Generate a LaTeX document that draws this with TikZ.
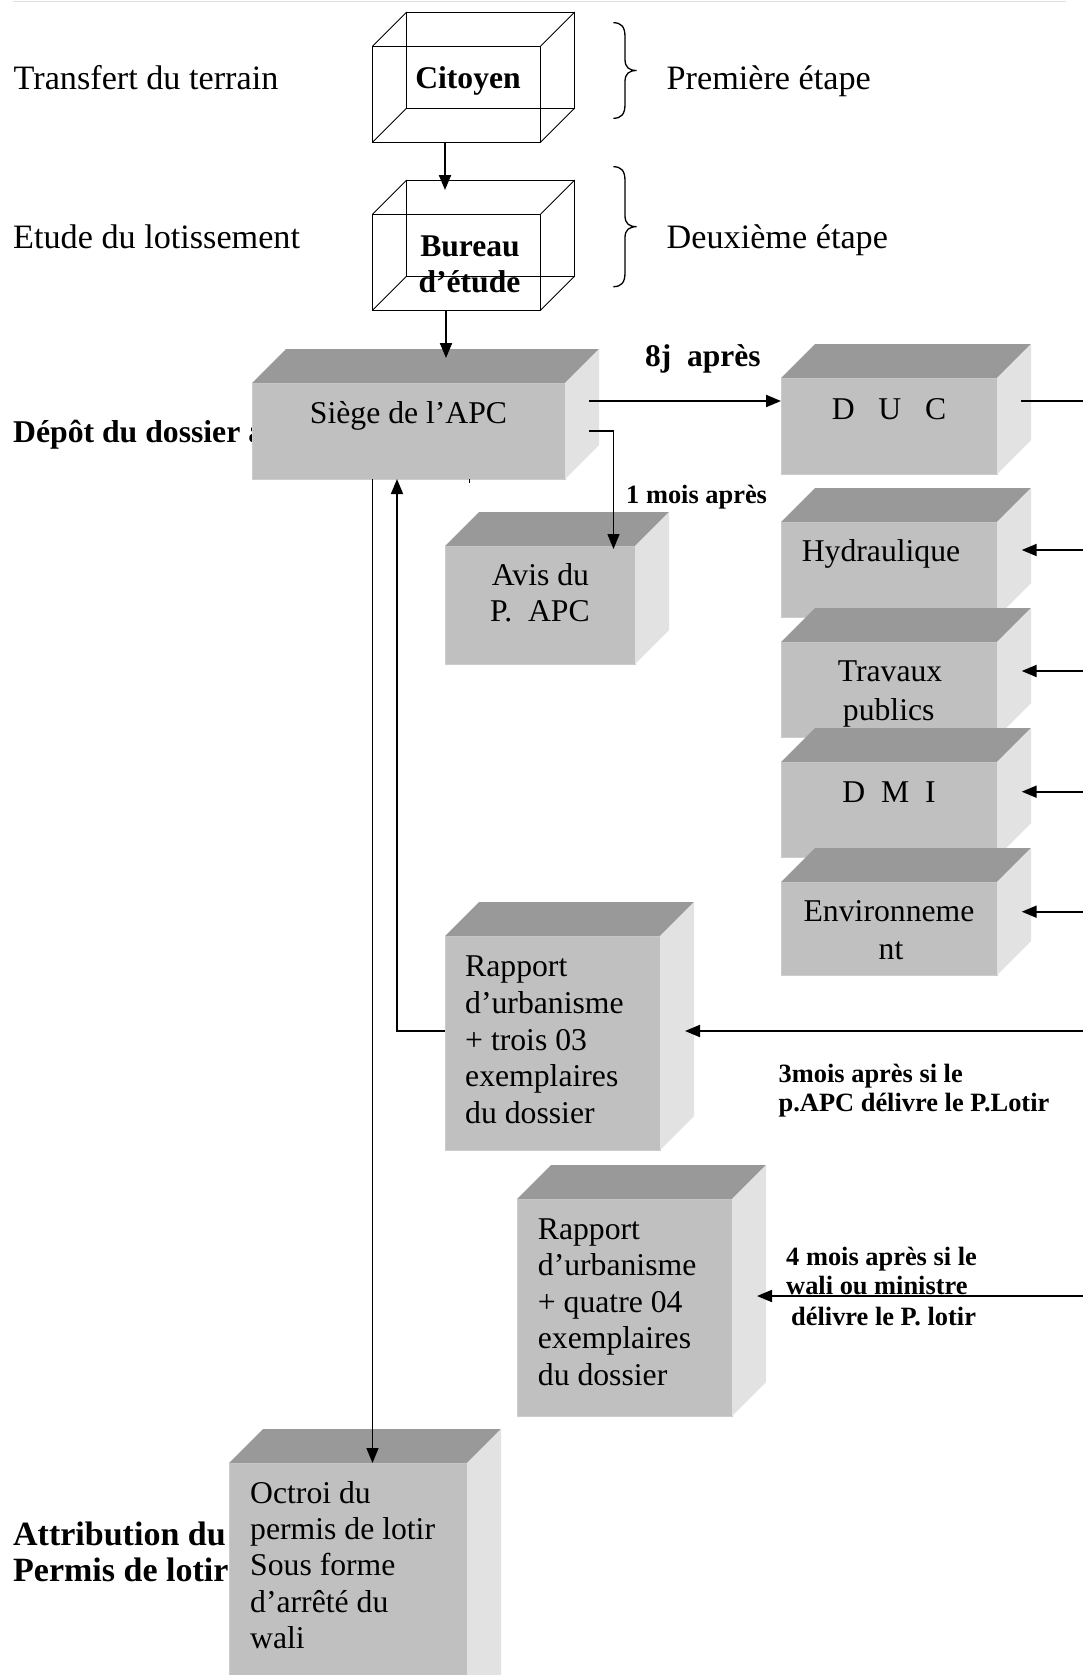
\documentclass[tikz,border=0pt]{standalone}
\usepackage{fontspec}
\setmainfont{Liberation Serif}
\usetikzlibrary{calc,arrows.meta}

\definecolor{topgray}{RGB}{153,153,153}
\definecolor{frontgray}{RGB}{192,192,192}
\definecolor{sidegray}{RGB}{226,226,226}
\definecolor{rimgray}{RGB}{204,204,204}

\newcommand\Fs[2]{\fontsize{#1}{#2}\selectfont}

% back edges of an open wire-frame cube whose front face is node #1
\newcommand\wireback[1]{%
  \draw[wireline] ($(#1.north west)+(34,-34)$) rectangle ($(#1.south east)+(34,-34)$);
  \draw[wireline] (#1.north west) -- ++(34,-34) (#1.north east) -- ++(34,-34)
                  (#1.south west) -- ++(34,-34) (#1.south east) -- ++(34,-34);}

% shaded top and right faces of a solid block whose front face is node #1
\newcommand\solidfaces[1]{%
  \fill[topgray] (#1.north west) -- ++(34,-34) -- ($(#1.north east)+(34,-34)$) -- (#1.north east) -- cycle;
  \fill[sidegray] (#1.north east) -- ++(34,-34) -- ($(#1.south east)+(34,-34)$) -- (#1.south east) -- cycle;}

% right curly brace: x of the ends, top y, bottom y
\newcommand\curlybrace[3]{%
  \draw[braceline] (#1,#2) .. controls ({#1+8},#2) and ({#1+11.7},{#2+4}) .. ({#1+11.7},{#2+14})
    -- ({#1+11.7},{(#2+#3)/2-11}) .. controls ({#1+11.7},{(#2+#3)/2-3}) and ({#1+16},{(#2+#3)/2}) .. ({#1+23.4},{(#2+#3)/2})
    .. controls ({#1+16},{(#2+#3)/2}) and ({#1+11.7},{(#2+#3)/2+3}) .. ({#1+11.7},{(#2+#3)/2+11})
    -- ({#1+11.7},{#3-14}) .. controls ({#1+11.7},{#3-4}) and ({#1+8},#3) .. (#1,#3);}

\tikzset{
  wireline/.style={line width=0.9pt},
  wirebox/.style={draw, line width=0.9pt, minimum width=168pt, minimum height=96pt,
                  inner sep=0pt, outer sep=0pt, anchor=north west},
  facebox/.style={fill=frontgray, draw=rimgray, line width=1pt, inner sep=0pt,
                  outer sep=0pt, anchor=north west},
  braceline/.style={line width=1.3pt},
  sidelabel/.style={font=\Fs{34.2}{40}, anchor=base west, inner sep=0pt},
  sidebold/.style={font=\bfseries\Fs{31.7}{37}, anchor=base west, inner sep=0pt},
  bigbold/.style={font=\bfseries\Fs{34}{40}, anchor=base west, inner sep=0pt},
  cubetext/.style={font=\bfseries\Fs{31.6}{37}, anchor=base, inner sep=0pt},
  boxtext/.style={font=\Fs{31.7}{36.6}, anchor=base, inner sep=0pt},
  listtext/.style={font=\Fs{31.7}{36.6}, anchor=base west, inner sep=0pt},
  delay/.style={font=\bfseries\Fs{31.5}{37}, anchor=base west, inner sep=0pt},
  note/.style={font=\bfseries\Fs{26.4}{30.5}, anchor=base west, inner sep=0pt},
  arr/.style={line width=2pt, -{Triangle[length=15pt,width=12pt]}},
  arrthin/.style={line width=1.5pt, -{Triangle[length=15pt,width=12pt]}},
  link/.style={line width=1.5pt},
}

\begin{document}
\begin{tikzpicture}[x=1pt,y=-1pt]
\useasboundingbox (0,0) rectangle (1083,1675);
\clip (0,0) rectangle (1083,1675);
\fill[white] (0,0) rectangle (1083,1675);

% rule along the top
\draw[black!12, line width=1.5pt] (13,1.5) -- (1066,1.5);

% stage labels
\node[sidelabel] (lab1) at (13.5,89.5) {Transfert du terrain};
\node[sidelabel] (lab2) at (13,248) {Etude du lotissement};
\node[sidelabel] (lab3) at (666.5,89.5) {Première étape};
\node[sidelabel] (lab4) at (666.5,248) {Deuxième étape};
\curlybrace{613.3}{22.7}{118.3}
\curlybrace{613.3}{166.7}{286.7}

\node[sidebold] (lab5) at (13,442) {Dépôt du dossier à};
\node[bigbold] (lab6) at (13,1545) {Attribution du};
\node[bigbold] (lab7) at (13,1581) {Permis de lotir};

% wire-frame cubes
\node[wirebox] (citoyen) at (372.7,46) {};
\wireback{citoyen}
\node[cubetext] (citoyenT) at (468,88.3) {Citoyen};

\node[wirebox] (bureau) at (372.7,214) {};
\wireback{bureau}
\node[cubetext] (bureauT1) at (470,256) {Bureau};
\node[cubetext] (bureauT2) at (469.5,292.7) {d’étude};

% solid blocks
\node[facebox, minimum width=313pt, minimum height=96pt] (siege) at (252,383) {};
\solidfaces{siege}
\node[boxtext] (siegeT) at (408.5,423) {Siège de l’APC};

\node[facebox, minimum width=190pt, minimum height=118pt] (avis) at (445,546) {};
\solidfaces{avis}
\node[boxtext] (avisT1) at (540.5,585) {Avis du};
\node[boxtext] (avisT2) at (540,621.7) {P.~~APC};

\node[facebox, minimum width=216pt, minimum height=96pt] (duc) at (781,378) {};
\solidfaces{duc}
\node[boxtext] (ducT) at (889,419.3) {D~~~U~~~C};

\node[facebox, minimum width=216pt, minimum height=95pt] (hyd) at (781,522) {};
\solidfaces{hyd}
\node[boxtext] (hydT) at (881,561.7) {Hydraulique};

\node[facebox, minimum width=216pt, minimum height=95pt] (trav) at (781,642) {};
\solidfaces{trav}
\node[boxtext] (travT1) at (890,681.7) {Travaux};
\node[boxtext] (travT2) at (888.7,720) {publics};

\node[facebox, minimum width=216pt, minimum height=95pt] (dmi) at (781,762) {};
\solidfaces{dmi}
\node[boxtext] (dmiT) at (889,802.7) {D~~M~~I};

\node[facebox, minimum width=216pt, minimum height=93pt] (env) at (781,882) {};
\solidfaces{env}
\node[boxtext] (envT1) at (889,921.7) {Environneme};
\node[boxtext] (envT2) at (891,959.3) {nt};

\node[facebox, minimum width=215pt, minimum height=214pt] (rapA) at (445,936) {};
\solidfaces{rapA}
\node[listtext] (rapA1) at (465,976.5) {Rapport};
\node[listtext] (rapA2) at (465,1013.25) {d’urbanisme};
\node[listtext] (rapA3) at (465,1050) {+ trois 03};
\node[listtext] (rapA4) at (465,1086.75) {exemplaires};
\node[listtext] (rapA5) at (465,1123.5) {du dossier};

\node[facebox, minimum width=215pt, minimum height=217pt] (rapB) at (517,1199) {};
\solidfaces{rapB}
\node[listtext] (rapB1) at (537.7,1239.3) {Rapport};
\node[listtext] (rapB2) at (537.7,1275.8) {d’urbanisme};
\node[listtext] (rapB3) at (537.7,1312.3) {+ quatre 04};
\node[listtext] (rapB4) at (537.7,1348.8) {exemplaires};
\node[listtext] (rapB5) at (537.7,1385.3) {du dossier};

\node[facebox, minimum width=238pt, minimum height=260pt] (octroi) at (229,1463) {};
\solidfaces{octroi}
\node[listtext] (oct1) at (250,1503.3) {Octroi du};
\node[listtext] (oct2) at (250,1539.6) {permis de lotir};
\node[listtext] (oct3) at (250,1575.9) {Sous forme};
\node[listtext] (oct4) at (250,1612.2) {d’arrêté du};
\node[listtext] (oct5) at (250,1648.5) {wali};

% delay notes
\node[delay] (d8) at (645,366) {8j~~après};
\node[note] (d1) at (626,503) {1 mois après};
\node[note] (d3a) at (778.5,1082) {3mois après si le};
\node[note] (d3b) at (778.5,1111) {p.APC délivre le P.Lotir};
\node[note] (d4a) at (786,1265) {4 mois après si le};
\node[note] (d4b) at (786,1294.5) {wali ou ministre};
\node[note] (d4c) at (791,1325) {délivre le P. lotir};

% reference points for the connectors
\coordinate (xa) at (445,0);
\coordinate (xb) at (446,0);
\coordinate (xc) at (613.5,0);
\coordinate (xd) at (397,0);
\coordinate (xe) at (372.5,0);
\coordinate (xt) at (469,0);
\coordinate (ya) at (0,401);
\coordinate (yb) at (0,431);
\coordinate (yc) at (0,1031);
\coordinate (yd) at (0,1296);
\coordinate (edgeDuc) at (1090,401);
\coordinate (edgeHyd) at (1090,550);
\coordinate (edgeTrav) at (1090,671);
\coordinate (edgeDmi) at (1090,791.7);
\coordinate (edgeEnv) at (1090,911.7);
\coordinate (edgeRapA) at (1090,1031);
\coordinate (edgeRapB) at (1090,1296);

% connectors
\draw[arr] (citoyen.south -| xa) -- ($(bureau.north -| xa)+(0,-24)$);
\draw[arr] (bureau.south -| xb) -- ($(siege.north -| xb)+(0,-25)$);
\draw[arr] ($(siege.east |- ya)+(24,0)$) -- (duc.west |- ya);
\draw[arrthin] ($(siege.east |- yb)+(24,0)$) -| ($(avis.north -| xc)+(0,3)$);
\draw[link] ($(duc.east |- ya)+(24,0)$) -- (edgeDuc);
\draw[arr] (edgeHyd) -- ($(hyd.east |- edgeHyd)+(24.7,0)$);
\draw[arr] (edgeTrav) -- ($(trav.east |- edgeTrav)+(24.7,0)$);
\draw[arr] (edgeDmi) -- ($(dmi.east |- edgeDmi)+(24.7,0)$);
\draw[arr] (edgeEnv) -- ($(env.east |- edgeEnv)+(24.7,0)$);
\draw[arr] (edgeRapA) -- ($(rapA.east |- edgeRapA)+(25,0)$);
\draw[arr] (edgeRapB) -- ($(rapB.east |- edgeRapB)+(25,0)$);
\draw[arrthin] (rapA.west |- yc) -| (siege.south -| xd);
\draw[arrthin] (siege.south -| xe) -- (octroi.north -| xe);
\draw[line width=0.8pt] (siege.south -| xt) -- ++(0,4);
\end{tikzpicture}
\end{document}
